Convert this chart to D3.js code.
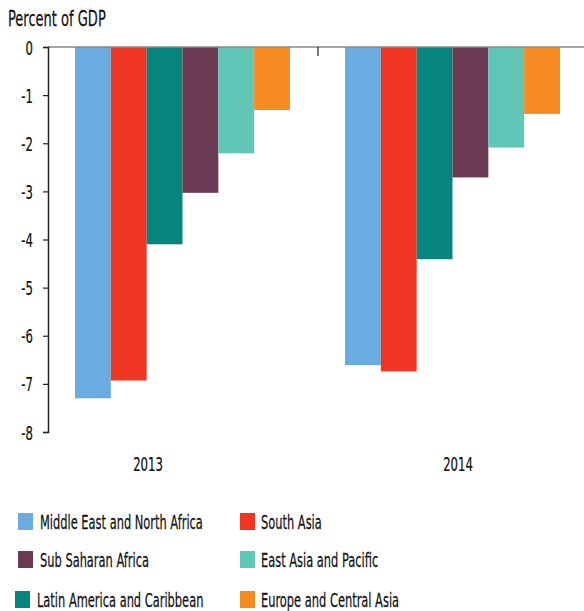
<!DOCTYPE html>
<html><head><meta charset="utf-8">
<script src="https://cdn.jsdelivr.net/npm/d3@7/dist/d3.min.js"></script>
<style>
body{margin:0;background:#fff;}
text{font-family:"DejaVu Sans Condensed","DejaVu Sans",sans-serif;font-stretch:condensed;fill:#111;stroke:#111;stroke-width:0.25px;}
</style></head><body>
<script>
const years = ["2013", "2014"];
const regions = ["Middle East and North Africa", "South Asia", "Latin America and Caribbean", "Sub Saharan Africa", "East Asia and Pacific", "Europe and Central Asia"];
const values2013 = [-7.3, -6.93, -4.1, -3.03, -2.21, -1.31];
const values2014 = [-6.61, -6.74, -4.41, -2.71, -2.09, -1.39];
const yTicks = [0, -1, -2, -3, -4, -5, -6, -7, -8];
const colors = ["#6AACDF", "#EF3524", "#07847D", "#6A3A55", "#62C6B6", "#F68B21"];
const legendOrder = ["Middle East and North Africa", "South Asia", "Sub Saharan Africa", "East Asia and Pacific", "Latin America and Caribbean", "Europe and Central Asia"];

const W = 584, H = 611;
const svg = d3.select("body").append("svg").attr("width", W).attr("height", H);

const y = d3.scaleLinear().domain([-8, 0]).range([432, 47]);
const x0 = d3.scaleBand().domain(years).range([48, 588]).paddingInner(0).paddingOuter(0);
const x1 = d3.scaleBand().domain(regions).range([27, 27 + 215]).padding(0);
const color = d3.scaleOrdinal().domain(regions).range(colors);

const data = years.map((yr, i) => ({year: yr, vals: (i === 0 ? values2013 : values2014).map((v, j) => ({region: regions[j], v}))}));

const SX = 0.65; // horizontal condensing to mimic a condensed face
const FS = 20;

// title
svg.append("text").attr("transform", `translate(8,26) scale(0.69,1)`).attr("font-size", 21).text("Percent of GDP");

// bars
const g = svg.selectAll("g.grp").data(data).join("g").attr("class", "grp")
  .attr("transform", d => `translate(${x0(d.year)},0)`);
g.selectAll("rect").data(d => d.vals).join("rect")
  .attr("x", d => x1(d.region))
  .attr("width", x1.bandwidth())
  .attr("y", y(0))
  .attr("height", d => y(d.v) - y(0))
  .attr("fill", d => color(d.region));

// zero line
svg.append("line").attr("x1", 48).attr("x2", W).attr("y1", y(0)).attr("y2", y(0))
  .attr("stroke", "#888").attr("stroke-width", 1.5);

// category separator tick
svg.append("line").attr("x1", x0("2014")).attr("x2", x0("2014")).attr("y1", y(0)).attr("y2", y(0) + 9)
  .attr("stroke", "#222").attr("stroke-width", 1.2);

// y axis
const yAxis = svg.append("g").attr("transform", "translate(48,0)")
  .call(d3.axisLeft(y).tickValues(yTicks).tickSize(5).tickPadding(10).tickFormat(d => String(d)));
yAxis.select(".domain").attr("stroke", "#222").attr("stroke-width", 1.5);
yAxis.selectAll(".tick line").attr("stroke", "#222").attr("stroke-width", 1.2);
yAxis.selectAll(".tick text").attr("x", 0).attr("dy", null).attr("y", 7)
  .attr("transform", `translate(-15,0) scale(${SX},1)`)
  .attr("font-size", FS).attr("fill", "#111")
  .style("font-family", '"DejaVu Sans Condensed","DejaVu Sans",sans-serif');

// year labels
const yearX = {"2013": x0("2013") + 100, "2014": x0("2014") + 140};
svg.selectAll("text.yr").data(years).join("text").attr("class", "yr")
  .attr("transform", d => `translate(${yearX[d]},471) scale(${SX},1)`)
  .attr("text-anchor", "middle").attr("font-size", FS)
  .text(d => d);

// legend
const legendPos = [[18, 513, 40], [240, 513, 261], [18, 551, 40], [240, 551, 261], [15, 591, 37], [240, 591, 261]];
const lg = svg.selectAll("g.lg").data(legendOrder).join("g").attr("class", "lg");
lg.append("rect").attr("x", (d, i) => legendPos[i][0]).attr("y", (d, i) => legendPos[i][1])
  .attr("width", 15).attr("height", 17).attr("fill", d => color(d));
lg.append("text")
  .attr("transform", (d, i) => `translate(${legendPos[i][2]},${legendPos[i][1] + 16}) scale(0.635,1)`)
  .attr("font-size", FS).text(d => d);
</script>
</body></html>
